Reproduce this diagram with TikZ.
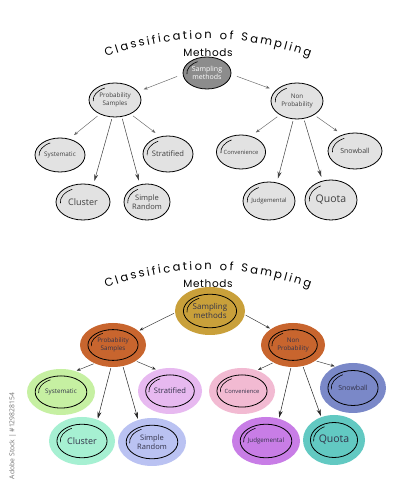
\documentclass[tikz,border=0pt]{standalone}
\usepackage{fontspec}
\setmainfont{Open Sans}
\newfontfamily\titlefont{Poppins}
\newfontfamily\titlefontsp[LetterSpace=6]{Poppins}
\usetikzlibrary{shapes.geometric,arrows.meta,decorations.text}
\definecolor{gfill}{HTML}{E2E2E2}
\definecolor{gdark}{HTML}{8C8C8C}
\definecolor{gtext}{HTML}{404040}
\definecolor{ctext}{HTML}{33334A}
\definecolor{cgold}{HTML}{C9A03A}
\definecolor{corange}{HTML}{C8652E}
\definecolor{csys}{HTML}{C6F0A2}
\definecolor{cstrat}{HTML}{E7B9F0}
\definecolor{cclu}{HTML}{A6F0D2}
\definecolor{csr}{HTML}{BAC2F2}
\definecolor{cconv}{HTML}{F2BAD2}
\definecolor{csnow}{HTML}{7A88C8}
\definecolor{cjudg}{HTML}{C87DE6}
\definecolor{cquota}{HTML}{62C9C2}
\newcommand{\fz}[1]{\fontsize{#1}{\fpeval{1.2*#1}}\selectfont}
% name, x, y, rx, ry, fill, text colour, font size, text
\newcommand{\gbub}[9]{%
  \node[gnode, fill=#6, text=#7, font=\fz{#8}, minimum width={2*#4}, minimum height={2*#5}] (#1) at (#2,#3) {#9};
  \draw[hookline] (#2,#3) ++({0.84*#4*cos(118)},{0.8*#5*sin(118)}) arc[start angle=118,end angle=185,x radius={0.84*#4},y radius={0.8*#5}];
}
% name, x, y, rx, ry, fill, font size, text
\newcommand{\cbub}[8]{%
  \node[cnode, fill=#6, font=\fz{#7}, minimum width={2*#4}, minimum height={2*#5}] (#1) at (#2,#3) {#8};
  \draw[line width=0.8pt] (#2,#3) ellipse[x radius={0.76*#4}, y radius={0.7*#5}];
  \draw[hookline] (#2,#3) ++({0.66*#4*cos(118)},{0.6*#5*sin(118)}) arc[start angle=118,end angle=185,x radius={0.66*#4},y radius={0.6*#5}];
}
\begin{document}
\begin{tikzpicture}[x=1pt,y=1pt,
  gnode/.style={ellipse, draw=black, line width=0.8pt, inner sep=0pt, align=center},
  cnode/.style={ellipse, inner sep=0pt, align=center, text=ctext},
  hookline/.style={line width=0.6pt},
  sarr/.style={draw=black!60, line width=0.45pt, shorten <=3pt, shorten >=6pt, -{Stealth[length=4pt,width=3pt]}},
  larr/.style={draw=black!75, line width=0.5pt, shorten <=2pt, shorten >=4pt, -{Stealth[length=7pt,width=4pt]}},
  sarrc/.style={draw=black!80, line width=0.45pt, shorten <=1pt, shorten >=1pt, -{Stealth[length=4pt,width=3pt]}},
  larrc/.style={draw=black!85, line width=0.5pt, shorten <=1pt, shorten >=1pt, -{Stealth[length=7pt,width=4pt]}},
  wmark/.style={text=black!55, rotate=90}
]
\useasboundingbox (0,0) rectangle (414,500);
\fill[white] (0,0) rectangle (414,500);

% ---------------- top (grayscale) ----------------
\path[decorate, decoration={text along path, text align={fit to path},
  text={|\titlefont\fz{11.5}|Classification of Sampling}}]
  (207,166) ++(110:295) arc[start angle=110, end angle=69.6, radius=295];
\node[font=\titlefontsp\fz{10.5}, inner sep=0pt] (m1) at (208,447.5) {Methods};

\gbub{S1}{207}{427}{24}{16}{gdark}{white}{7}{Sampling\\methods}
\gbub{P1}{115}{400}{26}{17}{gfill}{gtext}{6.3}{Probability\\Samples}
\gbub{N1}{297}{399}{26}{18}{gfill}{gtext}{6.3}{Non\\Probability}
\gbub{Sys1}{60}{345}{25}{17}{gfill}{gtext}{6.3}{Systematic}
\gbub{Strat1}{168}{346}{25}{18}{gfill}{gtext}{7.6}{Stratified}
\gbub{Clu1}{83}{298}{27}{18}{gfill}{gtext}{9}{Cluster}
\gbub{SR1}{147}{298}{23}{18}{gfill}{gtext}{7.5}{Simple\\Random}
\gbub{Conv1}{241}{348}{24}{17}{gfill}{gtext}{5.8}{Convenience}
\gbub{Snow1}{355}{349}{27}{18}{gfill}{gtext}{7}{Snowball}
\gbub{Judg1}{269}{299}{26}{19}{gfill}{gtext}{6}{Judgemental}
\gbub{Quota1}{331}{300}{26}{20}{gfill}{gtext}{10.5}{Quota}

\draw[sarr, shorten <=6pt] (S1.183) -- (P1.20);
\draw[sarr, shorten <=6pt] (S1.357) -- (N1.154);
\draw[sarr] (P1.223) -- (Sys1.60);
\draw[sarr] (P1.318) -- (Strat1.114);
\draw[larr] (P1.261) -- (Clu1.59);
\draw[larr] (P1.292) -- (SR1.112);
\draw[sarr] (N1.219) -- (Conv1.58);
\draw[sarr] (N1.321) -- (Snow1.128);
\draw[larr] (N1.259) -- (Judg1.67);
\draw[larr] (N1.291) -- (Quota1.114);

% ---------------- bottom (colour) ----------------
\path[decorate, decoration={text along path, text align={fit to path},
  text={|\titlefont\fz{11.5}|Classification of Sampling}}]
  (207,-65) ++(110:295) arc[start angle=110, end angle=69.6, radius=295];
\node[font=\titlefontsp\fz{10.5}, inner sep=0pt] (m2) at (208,216.5) {Methods};

\cbub{S2}{210}{189}{35}{24}{cgold}{8}{Sampling\\methods}
\cbub{P2}{113}{155}{33}{22}{corange}{6.3}{Probability\\Samples}
\cbub{N2}{293}{155}{32}{22}{corange}{6.3}{Non\\Probability}
\cbub{Sys2}{61}{108}{34}{23}{csys}{6.3}{Systematic}
\cbub{Strat2}{170}{109}{32}{23}{cstrat}{7.6}{Stratified}
\cbub{Clu2}{82}{59}{33}{24}{cclu}{9}{Cluster}
\cbub{SR2}{152}{58}{34}{24}{csr}{7.5}{Simple\\Random}
\cbub{Conv2}{242}{109}{33}{23}{cconv}{5.8}{Convenience}
\cbub{Snow2}{353}{112}{33}{25}{csnow}{7}{Snowball}
\cbub{Judg2}{266}{59}{34}{24}{cjudg}{6.2}{Judgemental}
\cbub{Quota2}{334}{60}{31}{25}{cquota}{10.5}{Quota}

\draw[sarrc] (S2.183) -- (P2.29);
\draw[sarrc] (S2.354) -- (N2.144);
\draw[sarrc] (P2.225) -- (Sys2.55);
\draw[sarrc] (P2.325) -- (Strat2.122);
\draw[larrc] (P2.265) -- (Clu2.54);
\draw[larrc] (P2.295) -- (SR2.122);
\draw[sarrc] (N2.222) -- (Conv2.54);
\draw[sarrc] (N2.325) -- (Snow2.129);
\draw[larrc] (N2.265) -- (Judg2.60);
\draw[larrc] (N2.295) -- (Quota2.119);

\node[wmark, font=\fz{6.8}] (wm) at (12.5,64) {Adobe Stock | \#129828154};
\end{tikzpicture}
\end{document}
